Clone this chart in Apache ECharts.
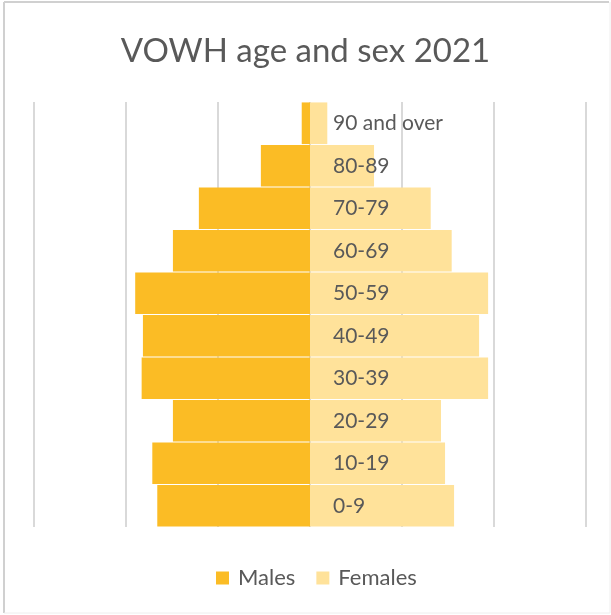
<!doctype html>
<html>
<head>
<meta charset="utf-8">
<title>VOWH age and sex 2021</title>
<script src="https://cdn.jsdelivr.net/npm/echarts@6/dist/echarts.min.js"></script>
<style>
html,body{margin:0;padding:0;background:#fff;}
#main{width:611px;height:615px;}
</style>
</head>
<body>
<div id="main"></div>
<script>
// age bands, bottom to top
var ageBands = ['0-9','10-19','20-29','30-39','40-49','50-59','60-69','70-79','80-89','90 and over'];
var males   = [8300, 8570, 7450, 9150, 9080, 9500, 7450, 6040, 2670, 450];
var females = [7830, 7340, 7120, 9680, 9190, 9680, 7700, 6560, 3480, 940];

var chart = echarts.init(document.getElementById('main'));

chart.setOption({
    animation: false,
    textStyle: {fontFamily: 'Lato'},
    title: {
        text: 'VOWH age and sex 2021',
        left: 'center',
        top: 30,
        textStyle: {fontFamily: 'Lato', fontSize: 33, fontWeight: 'normal', color: '#595959'}
    },
    legend: {
        data: ['Males', 'Females'],
        bottom: 21,
        left: 211,
        icon: 'rect',
        itemWidth: 13,
        itemHeight: 13,
        itemGap: 21,
        itemStyle: {borderWidth: 0},
        textStyle: {fontSize: 22, color: '#595959', padding: [0, 0, 0, 4]}
    },
    graphic: [
        {type: 'line', shape: {x1: 4, y1: 2, x2: 609, y2: 2}, style: {stroke: '#d0d0d0', lineWidth: 2}},
        {type: 'line', shape: {x1: 4, y1: 2, x2: 4, y2: 613}, style: {stroke: '#d0d0d0', lineWidth: 2}},
        {type: 'line', shape: {x1: 610, y1: 2, x2: 610, y2: 613}, style: {stroke: '#eeeeee', lineWidth: 1}},
        {type: 'line', shape: {x1: 4, y1: 613, x2: 610, y2: 613}, style: {stroke: '#eeeeee', lineWidth: 1}}
    ],
    grid: {left: 34, right: 25, top: 102, bottom: 88, containLabel: false},
    xAxis: {
        type: 'value',
        min: -15000,
        max: 15000,
        interval: 5000,
        axisLabel: {show: false},
        axisLine: {show: false},
        axisTick: {show: false},
        splitLine: {lineStyle: {color: '#d9d9d9', width: 2}}
    },
    yAxis: {
        type: 'category',
        data: ageBands,
        axisLine: {show: false},
        axisTick: {show: false},
        axisLabel: {show: false}
    },
    series: [
        {
            name: 'Males',
            type: 'bar',
            stack: 'pop',
            barCategoryGap: '2%',
            itemStyle: {color: '#FBBC25'},
            data: males.map(function (v) { return -v; })
        },
        {
            name: 'Females',
            type: 'bar',
            stack: 'pop',
            barCategoryGap: '2%',
            itemStyle: {color: '#FFE29A'},
            label: {
                show: true,
                position: 'insideLeft',
                distance: 23,
                formatter: '{b}',
                fontSize: 21,
                color: '#595959'
            },
            data: females
        }
    ]
});
</script>
</body>
</html>
